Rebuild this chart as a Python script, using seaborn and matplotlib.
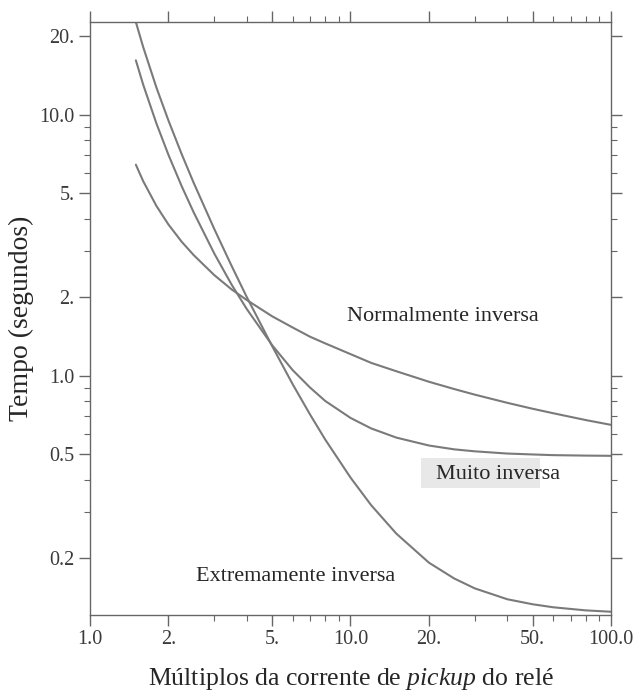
import numpy as np
import pandas as pd
import matplotlib
matplotlib.use("Agg")
import matplotlib.pyplot as plt
import matplotlib.ticker as mticker
import matplotlib.patches as mpatches
import seaborn as sns

# Multiples of pickup current (x)
multiples = [1.5, 1.6, 1.8, 2, 2.25, 2.5, 3, 3.5, 4, 5, 6, 7, 8, 10, 12, 15,
             20, 25, 30, 40, 50, 60, 80, 100]

# Operating time (s) for each curve
t_normal = [6.44, 5.57, 4.47, 3.80, 3.26, 2.90, 2.43, 2.14, 1.95, 1.69, 1.53, 1.41,
            1.33, 1.21, 1.12, 1.04, 0.948, 0.889, 0.846, 0.787, 0.747, 0.718, 0.676, 0.648]
t_muito = [16.18, 13.06, 9.25, 7.03, 5.32, 4.23, 2.94, 2.23, 1.80, 1.31, 1.05, 0.90,
           0.80, 0.689, 0.628, 0.579, 0.540, 0.522, 0.513, 0.503, 0.499, 0.496, 0.494, 0.493]
t_extrem = [22.68, 18.2, 12.7, 9.52, 7.06, 5.49, 3.65, 2.63, 2.00, 1.30, 0.927, 0.709,
            0.569, 0.407, 0.319, 0.248, 0.192, 0.167, 0.153, 0.139, 0.133, 0.1295, 0.126, 0.1245]

curve_names = ["Normalmente inversa", "Muito inversa", "Extremamente inversa"]

x_ticks = [1, 2, 5, 10, 20, 50, 100]
x_ticklabels = ["1.0", "2.", "5.", "10.0", "20.", "50.", "100.0"]
y_ticks = [0.2, 0.5, 1, 2, 5, 10, 20]
y_ticklabels = ["0.2", "0.5", "1.0", "2.", "5.", "10.0", "20."]

df = pd.DataFrame({
    "M": multiples * 3,
    "t": t_normal + t_muito + t_extrem,
    "curve": [curve_names[0]] * len(multiples) + [curve_names[1]] * len(multiples)
             + [curve_names[2]] * len(multiples),
})

sns.set_style("ticks")
plt.rcParams["font.family"] = ["Liberation Serif", "DejaVu Serif"]
plt.rcParams["mathtext.fontset"] = "custom"
plt.rcParams["mathtext.rm"] = "Liberation Serif"
plt.rcParams["mathtext.it"] = "Liberation Serif:italic"

fig = plt.figure(figsize=(6.36, 6.93), dpi=100)
ax = fig.add_axes([0.1415, 0.1126, 0.8192, 0.8557])

sns.lineplot(data=df, x="M", y="t", hue="curve", ax=ax,
             palette=["#7a7a7a"] * 3, linewidth=1.5, legend=False, sort=True)

ax.set_xscale("log")
ax.set_yscale("log")
ax.set_xlim(1.0, 100.0)
ax.set_ylim(0.121, 22.7)

axis_col = "#666666"
for sp in ax.spines.values():
    sp.set_visible(True)
    sp.set_color(axis_col)
    sp.set_linewidth(1.0)

ax.xaxis.set_major_locator(mticker.FixedLocator(x_ticks))
ax.xaxis.set_major_formatter(mticker.FixedFormatter(x_ticklabels))
ax.xaxis.set_minor_locator(mticker.LogLocator(base=10, subs=np.arange(1, 10)))
ax.xaxis.set_minor_formatter(mticker.NullFormatter())
ax.yaxis.set_major_locator(mticker.FixedLocator(y_ticks))
ax.yaxis.set_major_formatter(mticker.FixedFormatter(y_ticklabels))
ax.yaxis.set_minor_locator(mticker.LogLocator(base=10, subs=np.arange(1, 10)))
ax.yaxis.set_minor_formatter(mticker.NullFormatter())

ax.tick_params(which="both", direction="out", top=True, right=True,
               color=axis_col, labelcolor="#3a3a3a", labelsize=14.5)
ax.tick_params(which="major", length=8, width=1.0, pad=3)
ax.tick_params(which="minor", length=4, width=0.8)

ax.set_xlabel("Múltiplos da corrente de $\\mathit{pickup}$ do relé", fontsize=18.5,
              labelpad=12)
ax.set_ylabel("Tempo (segundos)", fontsize=20, labelpad=4)

# grey background behind the "Muito inversa" label
ax.add_patch(mpatches.Rectangle((18.7, 0.372), 53.4 - 18.7, 0.485 - 0.372,
                                facecolor="#e8e8e8", edgecolor="none", zorder=1))

ax.text(22.7, 1.68, "Normalmente inversa", fontsize=16, ha="center", va="center")
ax.text(36.8, 0.418, "Muito inversa", fontsize=16, ha="center", va="center", zorder=3)
ax.text(6.18, 0.170, "Extremamente inversa", fontsize=16, ha="center", va="center")

fig.savefig("out.png", dpi=100)
